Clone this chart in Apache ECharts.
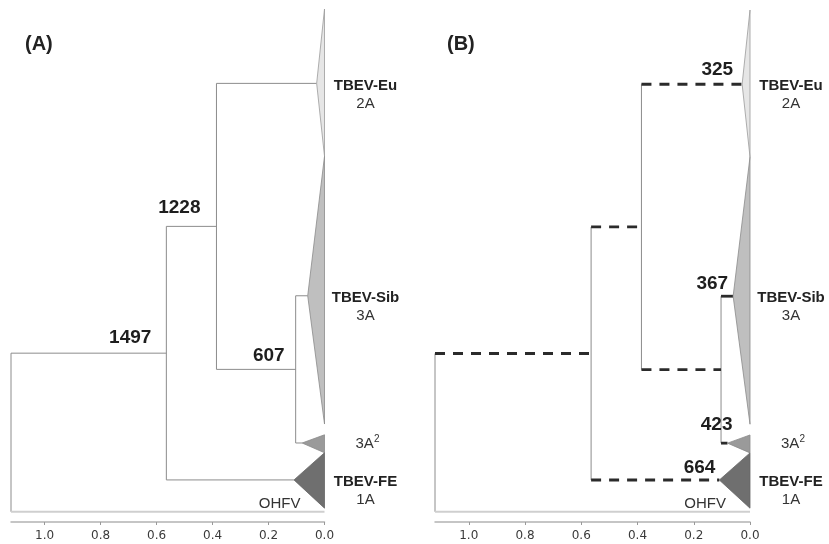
<!DOCTYPE html>
<html><head><meta charset="utf-8">
<script src="https://cdn.jsdelivr.net/npm/echarts@6/dist/echarts.min.js"></script>
<style>html,body{margin:0;padding:0;background:#fff}#c{width:829px;height:544px}</style>
</head><body><div id="c"></div>
<script>
// ---------------- data ----------------
const cladeNames = ['TBEV-Eu', 'TBEV-Sib', '3A2', 'TBEV-FE'];
const cladeSubtypes = ['2A', '3A', '', '1A'];
const cladeApexDist = [0.028, 0.06, 0.08, 0.109];
const cladeApexPos = [14.5, 55.9, 84.6, 91.8];
const cladeSpanTop = [0, 28.7, 83.0, 86.5];
const cladeSpanBottom = [28.7, 80.9, 86.5, 97.3];
const outgroupName = 'OHFV';
const outgroupPos = 98;
const nodeNames = ['root', 'n1497', 'n1228', 'n607'];
const nodeDist = [1.12, 0.565, 0.386, 0.103];
const nodeChildren = [['n1497', 'OHFV'], ['n1228', 'TBEV-FE'], ['TBEV-Eu', 'n607'], ['TBEV-Sib', '3A2']];
const panelANodeLabels = ['', '1497', '1228', '607'];
const panelBCladeLabels = ['325', '367', '423', '664'];
const panelBDashed = ['root>n1497', 'n1497>n1228', 'n1228>TBEV-Eu', 'n1228>n607', 'n1497>TBEV-FE'];
const panelBBold = ['n607>TBEV-Sib', 'n607>3A2'];
const distTicks = [0, 0.2, 0.4, 0.6, 0.8, 1.0];
const distMax = 1.12;
const panelTitles = ['(A)', '(B)'];

// ---------------- styles / layout ----------------
const FONT = '"Liberation Sans", Arial, sans-serif';
const cladeFill = ['#e6e6e6', '#bfbfbf', '#9a9a9a', '#6f6f6f'];
const cladeStroke = ['#9a9a9a', '#8a8a8a', '#8a8a8a', '#666666'];
const thinStyle = {stroke: '#8c8c8c', lineWidth: 1, fill: null};
const outgroupStyle = {stroke: '#cfcfcf', lineWidth: 2, fill: null};
const dashStyle = {stroke: '#2b2b2b', lineWidth: 2.8, lineDash: [10, 8], fill: null};
const boldStyle = {stroke: '#2b2b2b', lineWidth: 2.8, fill: null};
const aLabelDx = [0, -15, -16, -11], aLabelDy = [0, -15, -19, -14];
const bLabelDx = [-9, -5, 5, -4], bLabelDy = [-14, -12, -18, -12];

// ---------------- tree helpers ----------------
function cladeIndex(n) { return cladeNames.indexOf(n); }
function nodeIndex(n) { return nodeNames.indexOf(n); }
function distOf(n) {
  const c = cladeIndex(n); if (c >= 0) return cladeApexDist[c];
  const k = nodeIndex(n); if (k >= 0) return nodeDist[k];
  return 0;
}
function posOf(n) {
  const c = cladeIndex(n); if (c >= 0) return cladeApexPos[c];
  if (n === outgroupName) return outgroupPos;
  const ch = nodeChildren[nodeIndex(n)];
  return (posOf(ch[0]) + posOf(ch[1])) / 2;
}
const branchData = [], branchKeys = [];
nodeNames.forEach((n, i) => {
  const x = nodeDist[i], ch = nodeChildren[i];
  branchData.push([x, posOf(ch[0]), x, posOf(ch[1]), branchKeys.length]); branchKeys.push('v:' + n);
});
nodeNames.forEach((n, i) => {
  const x = nodeDist[i], ch = nodeChildren[i];
  ch.forEach(c => { branchData.push([x, posOf(c), distOf(c), posOf(c), branchKeys.length]); branchKeys.push(n + '>' + c); });
});
function styleA(key) { return key === 'root>OHFV' ? outgroupStyle : thinStyle; }
function styleB(key) {
  if (key === 'root>OHFV') return outgroupStyle;
  if (panelBDashed.includes(key)) return dashStyle;
  if (panelBBold.includes(key)) return boldStyle;
  return thinStyle;
}

const chart = echarts.init(document.getElementById('c'));

function axesFor(gi) {
  return {
    x: {
      type: 'value', gridIndex: gi, inverse: true, min: 0, max: distMax, position: 'bottom',
      axisLine: {show: true, onZero: false, lineStyle: {color: '#b3b3b3', width: 1.5}},
      axisTick: {show: true, customValues: distTicks, length: 3, lineStyle: {color: '#999'}},
      axisLabel: {customValues: distTicks, formatter: v => (+v).toFixed(1), fontFamily: 'DejaVu Sans', fontSize: 12, color: '#3a3a3a', margin: 8},
      splitLine: {show: false}
    },
    y: {type: 'value', gridIndex: gi, inverse: true, min: 0, max: 100, show: false}
  };
}
const axA = axesFor(0), axB = axesFor(1);

function branchSeries(gi, styleFn) {
  return {
    type: 'custom', xAxisIndex: gi, yAxisIndex: gi, silent: true, clip: false,
    data: branchData, encode: {x: [0, 2], y: [1, 3]},
    renderItem: (params, api) => {
      const p1 = api.coord([api.value(0), api.value(1)]);
      const p2 = api.coord([api.value(2), api.value(3)]);
      const key = branchKeys[api.value(4)];
      return {type: 'line', shape: {x1: p1[0], y1: p1[1], x2: p2[0], y2: p2[1]}, style: Object.assign({}, styleFn(key))};
    }
  };
}
function cladeSeries(gi) {
  return {
    type: 'custom', xAxisIndex: gi, yAxisIndex: gi, silent: true, clip: false,
    data: cladeNames.map((n, i) => [cladeApexDist[i], cladeApexPos[i], cladeSpanTop[i], cladeSpanBottom[i], i]),
    encode: {x: 0, y: 1},
    renderItem: (params, api) => {
      const i = api.value(4);
      const a = api.coord([api.value(0), api.value(1)]);
      const t = api.coord([0, api.value(2)]);
      const b = api.coord([0, api.value(3)]);
      return {type: 'polygon', shape: {points: [a, t, b]}, style: {fill: cladeFill[i], stroke: cladeStroke[i], lineWidth: 0.8}};
    }
  };
}
function textEl(x, y, text, size, weight, align, color) {
  return {type: 'text', x: x, y: y, style: {text: text, fontSize: size, fontWeight: weight, fontFamily: FONT, fill: color || '#222', align: align, verticalAlign: 'middle'}};
}
function leafLabelSeries(gi) {
  const data = cladeNames.map((n, i) => [0, cladeApexPos[i], i]);
  data.push([0, outgroupPos, -1]);
  return {
    type: 'custom', xAxisIndex: gi, yAxisIndex: gi, silent: true, clip: false,
    data: data, encode: {x: 0, y: 1},
    renderItem: (params, api) => {
      const i = api.value(2);
      const p = api.coord([0, api.value(1)]);
      if (i < 0) return textEl(p[0] - 24, p[1] - 8, outgroupName, 15, 'normal', 'right', '#333');
      const cx = p[0] + 41;
      if (cladeNames[i] === '3A2') {
        return {type: 'group', children: [
          textEl(cx - 10, p[1] + 1, '3A', 15, 'normal', 'left', '#333'),
          textEl(cx + 8.5, p[1] - 4, '2', 10, 'normal', 'left', '#333')
        ]};
      }
      return {type: 'group', children: [
        textEl(cx, p[1] + 2, cladeNames[i], 15, 'bold', 'center', '#222'),
        textEl(cx, p[1] + 20, cladeSubtypes[i], 15, 'normal', 'center', '#333')
      ]};
    }
  };
}
function nodeLabelSeriesA() {
  return {
    type: 'custom', xAxisIndex: 0, yAxisIndex: 0, silent: true, clip: false,
    data: nodeNames.map((n, i) => [nodeDist[i], posOf(n), i]), encode: {x: 0, y: 1},
    renderItem: (params, api) => {
      const i = api.value(2);
      if (!panelANodeLabels[i]) return null;
      const p = api.coord([api.value(0), api.value(1)]);
      return textEl(p[0] + aLabelDx[i], p[1] + aLabelDy[i], panelANodeLabels[i], 19, 'bold', 'right', '#1e1e1e');
    }
  };
}
function cladeLabelSeriesB() {
  return {
    type: 'custom', xAxisIndex: 1, yAxisIndex: 1, silent: true, clip: false,
    data: cladeNames.map((n, i) => [cladeApexDist[i], cladeApexPos[i], i]), encode: {x: 0, y: 1},
    renderItem: (params, api) => {
      const i = api.value(2);
      const p = api.coord([api.value(0), api.value(1)]);
      return textEl(p[0] + bLabelDx[i], p[1] + bLabelDy[i], panelBCladeLabels[i], 19, 'bold', 'right', '#1e1e1e');
    }
  };
}

chart.setOption({
  backgroundColor: '#fff',
  animation: false,
  title: [
    {text: panelTitles[0], left: 25, top: 34, textStyle: {fontFamily: FONT, fontSize: 20, fontWeight: 'bold', color: '#222'}, padding: 0},
    {text: panelTitles[1], left: 447, top: 34, textStyle: {fontFamily: FONT, fontSize: 20, fontWeight: 'bold', color: '#222'}, padding: 0}
  ],
  grid: [
    {left: 11, top: 9, width: 313.5, height: 513},
    {left: 435, top: 10, width: 315, height: 512}
  ],
  xAxis: [axA.x, axB.x],
  yAxis: [axA.y, axB.y],
  series: [
    branchSeries(0, styleA), cladeSeries(0), leafLabelSeries(0), nodeLabelSeriesA(),
    branchSeries(1, styleB), cladeSeries(1), leafLabelSeries(1), cladeLabelSeriesB()
  ]
});
</script></body></html>
